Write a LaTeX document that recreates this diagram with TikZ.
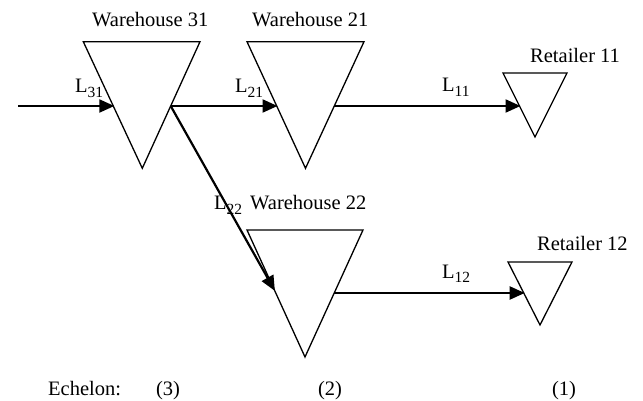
\documentclass[tikz,border=0pt]{standalone}
\usepackage{fontspec}
\setmainfont{Liberation Serif}
\usetikzlibrary{arrows.meta}
\newcommand\Lsub[1]{L\raisebox{-0.2em}{\fontsize{15.5}{15.5}\selectfont #1}}
\tikzset{
  tri/.style={draw=black, line width=1.3pt, line join=miter},
  flow/.style={draw=black, line width=2.2pt, -{Triangle[length=15pt,width=13pt]}, shorten >=-1pt},
  lbl/.style={inner sep=0pt, anchor=base west, font=\fontsize{20.5}{24}\selectfont},
}
\begin{document}
\begin{tikzpicture}[x=1pt,y=-1pt]
\useasboundingbox (0,0) rectangle (643,401);
% triangles
\draw[tri] (83.3,41.7) -- (200,41.7) -- (142.3,168.3) -- cycle;
\draw[tri] (247,41.7) -- (364,41.7) -- (305.5,168.3) -- cycle;
\draw[tri] (247,230) -- (363,230) -- (305,357) -- cycle;
\draw[tri] (503,73) -- (567,73) -- (535,137) -- cycle;
\draw[tri] (508,262) -- (572,262) -- (540,325) -- cycle;
% connection points
\coordinate (src) at (18,106);
\coordinate (w31in) at (113.3,106);
\coordinate (w31out) at (170.7,106);
\coordinate (w21in) at (276.5,106);
\coordinate (w21out) at (334,106);
\coordinate (r11in) at (519.5,106);
\coordinate (w22in) at (274.4,290);
\coordinate (w22out) at (334.2,293);
\coordinate (r12in) at (523.7,293);
% flows
\draw[flow] (src) -- (w31in);
\draw[flow] (w31out) -- (w21in);
\draw[flow] (w21out) -- (r11in);
\draw[flow] (w31out) -- (w22in);
\draw[flow] (w22out) -- (r12in);
% labels
\node[lbl] (tw31) at (92,27) {Warehouse 31};
\node[lbl] (tw21) at (252,27) {Warehouse 21};
\node[lbl] (tw22) at (250,210) {Warehouse 22};
\node[lbl] (tr11) at (530,63) {Retailer 11};
\node[lbl] (tr12) at (537,250) {Retailer 12};
\node[lbl] (l31) at (75,93) {\Lsub{31}};
\node[lbl] (l21) at (235,93) {\Lsub{21}};
\node[lbl] (l11) at (442,92) {\Lsub{11}};
\node[lbl] (l22) at (214,210) {\Lsub{22}};
\node[lbl] (l12) at (442,278) {\Lsub{12}};
\node[lbl] (ech) at (48,395) {Echelon:};
\node[lbl,anchor=base] (e3) at (168,395) {(3)};
\node[lbl,anchor=base] (e2) at (330,395) {(2)};
\node[lbl,anchor=base] (e1) at (564,395) {(1)};
\end{tikzpicture}
\end{document}
